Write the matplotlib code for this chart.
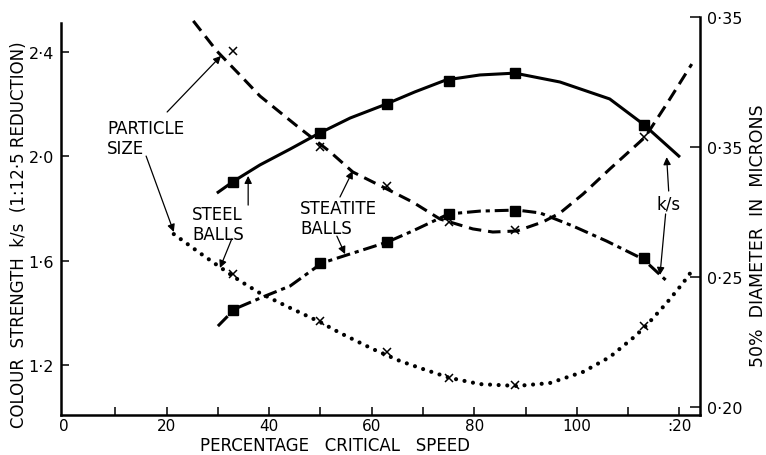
import matplotlib
matplotlib.use("Agg")
import matplotlib.pyplot as plt

plt.rcParams['font.family'] = ['DejaVu Sans']
plt.rcParams['lines.scale_dashes'] = False

# percentage critical speed of each mill run
speed = [33, 50, 63, 75, 88, 113]

# colour strength k/s (1:12.5 reduction)
ks_steel = [1.90, 2.09, 2.20, 2.29, 2.32, 2.12]
ks_steatite = [1.41, 1.59, 1.67, 1.78, 1.79, 1.61]

# 50% diameter, microns
d50_steatite = [0.337, 0.300, 0.285, 0.271, 0.268, 0.304]
d50_steel = [0.251, 0.233, 0.221, 0.211, 0.2085, 0.231]

# hand-drawn curves through the points
ks_steel_cx = [29.8, 33.1, 38.2, 44.1, 49.5, 55.8, 62.4, 68.4, 74.5, 81.1, 87.9, 96.7, 106.4, 112.9, 120.1]
ks_steel_cy = [1.859, 1.905, 1.967, 2.028, 2.086, 2.147, 2.197, 2.247, 2.293, 2.312, 2.319, 2.285, 2.220, 2.124, 1.997]

ks_steatite_cx = [30.0, 33.3, 38.8, 44.1, 50.3, 55.2, 63.0, 68.0, 75.0, 81.1, 88.3, 92.8, 99.2, 105.8, 112.9, 117.3]
ks_steatite_cy = [1.349, 1.415, 1.461, 1.503, 1.591, 1.622, 1.671, 1.714, 1.779, 1.790, 1.794, 1.783, 1.733, 1.675, 1.606, 1.526]

d50_steatite_cx = [25.2, 29.8, 34.3, 38.2, 45.4, 51.9, 56.3, 63.0, 68.0, 73.3, 79.7, 83.6, 88.3, 93.4, 96.7, 101.2, 106.4, 113.3, 117.5, 122.4]
d50_steatite_cy = [0.3485, 0.3369, 0.3277, 0.3196, 0.3081, 0.2981, 0.2904, 0.2838, 0.2788, 0.2723, 0.2685, 0.2673, 0.2677,
                   0.2712, 0.2746, 0.2819, 0.2915, 0.3038, 0.3165, 0.3319]

d50_steel_cx = [21.4, 26.5, 30.4, 34.3, 38.2, 44.1, 49.9, 53.8, 60.2, 65.5, 70.0, 75.2, 81.1, 88.3, 94.7, 101.2, 106.4,
                110.9, 113.3, 117.5, 120.7, 122.4]
d50_steel_cy = [0.2665, 0.2592, 0.2538, 0.2485, 0.2438, 0.2381, 0.2327, 0.2285, 0.2223, 0.2177, 0.2146, 0.2112, 0.2088,
                0.2081, 0.2092, 0.2135, 0.2192, 0.2265, 0.2308, 0.2400, 0.2477, 0.2523]

xticks = list(range(0, 121, 10))
xlabels = ['0', '', '20', '', '40', '', '60', '', '80', '', '100', '', ':20']
ks_ticks = [1.2, 1.6, 2.0, 2.4]
ks_labels = ['1·2', '1·6', '2·0', '2·4']
d50_ticks = [0.20, 0.25, 0.30, 0.35]
d50_labels = ['0·20', '0·25', '0·35', '0·35']

fig = plt.figure(figsize=(7.66, 4.56), dpi=100)
ax = fig.add_axes([0.0796, 0.0877, 0.8342, 0.8728])
ax2 = ax.twinx()

lw = 2.2
ax.plot(ks_steel_cx, ks_steel_cy, color='black', lw=lw, solid_capstyle='butt', solid_joinstyle='round')
ax.plot(ks_steatite_cx, ks_steatite_cy, color='black', lw=lw, dashes=(10, 3.5, 3, 3.5))
ax.plot(speed, ks_steel, 's', color='black', ms=6.5)
ax.plot(speed, ks_steatite, 's', color='black', ms=6.5)

ax2.plot(d50_steatite_cx, d50_steatite_cy, color='black', lw=lw, dashes=(9, 5))
ax2.plot(d50_steel_cx, d50_steel_cy, color='black', lw=3.0, dashes=(0.01, 6.2), dash_capstyle='round')
ax2.plot(speed, d50_steatite, 'x', color='black', ms=6, mew=1.1)
ax2.plot(speed, d50_steel, 'x', color='black', ms=6, mew=1.1)

ax.set_xlim(-0.6, 124)
ax.set_ylim(1.0081, 2.5342)
ax2.set_ylim(0.19692, 0.35)

for a in (ax, ax2):
    a.spines['top'].set_visible(False)
    for s in a.spines.values():
        s.set_linewidth(1.8)
ax.spines['right'].set_visible(False)
ax2.spines['left'].set_visible(False)
ax2.spines['bottom'].set_visible(False)
ax.spines['left'].set_bounds(1.0081, 2.51)

ax.set_xticks(xticks, labels=xlabels)
ax.xaxis.get_major_ticks()[0].tick1line.set_visible(False)
ax.set_yticks(ks_ticks, labels=ks_labels)
ax2.set_yticks(d50_ticks, labels=d50_labels)
ax.tick_params(axis='both', direction='in', length=6, width=1.1, labelsize=11.5, pad=5)
ax.tick_params(axis='x', labelsize=11, pad=2.5)
ax2.tick_params(axis='y', direction='in', length=7, width=1.1, labelsize=11.5, pad=5)

ax.set_xlabel('PERCENTAGE   CRITICAL   SPEED', fontsize=12)
ax.xaxis.set_label_coords(0.429, -0.0535)
ax.set_ylabel('COLOUR  STRENGTH  k/s  (1:12·5 REDUCTION)', fontsize=12)
ax.yaxis.set_label_coords(-0.052, 0.455)
ax2.set_ylabel('50%  DIAMETER  IN  MICRONS', fontsize=12.5, rotation=90)
ax2.yaxis.set_label_coords(1.076, 0.452)

arrow = dict(arrowstyle='-|>', color='black', lw=0.9, mutation_scale=11, shrinkA=0, shrinkB=0)
fs = 12
ax.text(8.4, 2.143, 'PARTICLE\nSIZE', fontsize=fs, ha='left', va='top', linespacing=1.15)
ax.annotate('', xy=(30.6, 2.385), xytext=(20.1, 2.17), arrowprops=arrow)
ax.annotate('', xy=(21.4, 1.710), xytext=(16.0, 2.001), arrowprops=arrow)

ax.text(25.0, 1.813, 'STEEL\nBALLS', fontsize=fs, ha='left', va='top', linespacing=1.15)
ax.annotate('', xy=(35.9, 1.925), xytext=(35.9, 1.813), arrowprops=arrow)
ax.annotate('', xy=(30.4, 1.572), xytext=(32.7, 1.683), arrowprops=arrow)

ax.text(46.0, 1.836, 'STEATITE\nBALLS', fontsize=fs, ha='left', va='top', linespacing=1.15)
ax.annotate('', xy=(56.3, 1.944), xytext=(53.8, 1.844), arrowprops=arrow)
ax.annotate('', xy=(54.8, 1.625), xytext=(53.2, 1.694), arrowprops=arrow)

ax.text(117.9, 1.821, 'k/s', fontsize=fs, ha='center', va='center')
ax.annotate('', xy=(117.5, 1.997), xytext=(117.9, 1.867), arrowprops=arrow)
ax.annotate('', xy=(116.2, 1.545), xytext=(117.3, 1.779), arrowprops=arrow)

fig.savefig('out.png', dpi=100)
